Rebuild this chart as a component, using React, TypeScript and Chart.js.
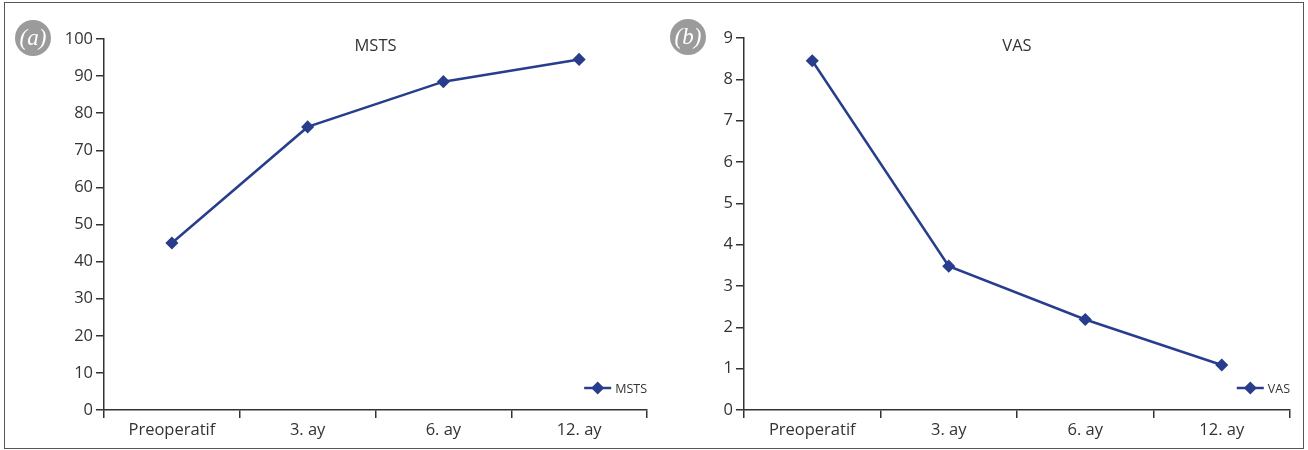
import React, { useEffect, useRef } from "react";
import { Chart, registerables } from "chart.js";

Chart.register(...registerables);

const categories = ["Preoperatif", "3. ay", "6. ay", "12. ay"];
const mstsValues = [45, 76.3, 88.5, 94.5];
const vasValues = [8.45, 3.48, 2.19, 1.09];
const mstsAxis = { min: 0, max: 100, step: 10 };
const vasAxis = { min: 0, max: 9, step: 1 };

const FONT = '"Open Sans", "Noto Sans", sans-serif';
const TEXT = "#333333";
const AXIS = "#333333";
const LINE = "#283d8c";

const overlayPlugin = {
  id: "overlay",
  afterDraw(chart: any, _args: any, opts: any) {
    const { ctx, chartArea } = chart;
    const cx = (chartArea.left + chartArea.right) / 2;
    ctx.save();
    ctx.fillStyle = TEXT;
    ctx.font = `16.5px ${FONT}`;
    ctx.textAlign = "center";
    ctx.textBaseline = "alphabetic";
    ctx.fillText(opts.title, cx, opts.titleY);

    const label = chart.data.datasets[0].label;
    ctx.font = `12.5px ${FONT}`;
    const tw = ctx.measureText(label).width;
    const tx = chartArea.right - tw;
    const y = chartArea.bottom - 22;
    ctx.textAlign = "left";
    ctx.textBaseline = "middle";
    ctx.fillText(label, tx, y + 1);
    const x1 = tx - 4;
    const x0 = x1 - 27;
    ctx.strokeStyle = LINE;
    ctx.lineWidth = 2.5;
    ctx.beginPath();
    ctx.moveTo(x0, y);
    ctx.lineTo(x1, y);
    ctx.stroke();
    const mx = (x0 + x1) / 2;
    const r = 6.5;
    ctx.fillStyle = LINE;
    ctx.beginPath();
    ctx.moveTo(mx - r, y);
    ctx.lineTo(mx, y - r);
    ctx.lineTo(mx + r, y);
    ctx.lineTo(mx, y + r);
    ctx.closePath();
    ctx.fill();
    ctx.restore();
  },
};

type PanelProps = {
  values: number[];
  label: string;
  axis: { min: number; max: number; step: number };
  left: number;
  padLeft: number;
  padRight: number;
  padTop: number;
};

function Panel({ values, label, axis, left, padLeft, padRight, padTop }: PanelProps) {
  const ref = useRef<HTMLCanvasElement | null>(null);
  useEffect(() => {
    if (!ref.current) return;
    const chart = new Chart(ref.current, {
      type: "line",
      data: {
        labels: categories,
        datasets: [
          {
            label,
            data: values,
            borderColor: LINE,
            backgroundColor: LINE,
            borderWidth: 2.5,
            tension: 0,
            pointStyle: "rectRot",
            pointRadius: 5.5,
            pointBorderWidth: 1.5,
            pointBackgroundColor: LINE,
            pointBorderColor: LINE,
          },
        ],
      },
      options: {
        responsive: false,
        animation: false,
        devicePixelRatio: 1,
        layout: { padding: { left: padLeft, right: padRight, top: padTop, bottom: 0 } },
        plugins: {
          legend: { display: false },
          tooltip: { enabled: false },
          overlay: { title: label, titleY: 51 },
        } as any,
        scales: {
          x: {
            type: "category",
            offset: true,
            grid: {
              offset: true,
              drawOnChartArea: false,
              drawTicks: true,
              tickLength: 8,
              color: AXIS,
              lineWidth: 1.5,
            },
            border: { display: true, color: AXIS, width: 1.5 },
            ticks: {
              color: TEXT,
              font: { family: FONT, size: 16.5 },
              padding: 2,
              maxRotation: 0,
              autoSkip: false,
            },
            afterFit: (s: any) => {
              s.height = 40;
            },
          },
          y: {
            min: axis.min,
            max: axis.max,
            ticks: {
              stepSize: axis.step,
              color: TEXT,
              font: { family: FONT, size: 16.5 },
              padding: 3,
            },
            grid: {
              drawOnChartArea: false,
              drawTicks: true,
              tickLength: 8,
              color: AXIS,
              lineWidth: 1.5,
            },
            border: { display: true, color: AXIS, width: 1.5 },
            afterFit: (s: any) => {
              s.width = 60;
            },
          },
        },
      } as any,
      plugins: [overlayPlugin],
    });
    return () => chart.destroy();
  }, []);
  return (
    <canvas
      ref={ref}
      width={654}
      height={450}
      style={{ position: "absolute", left, top: 0, width: 654, height: 450 }}
    />
  );
}

function Badge({ text, x, y }: { text: string; x: number; y: number }) {
  return (
    <div
      style={{
        position: "absolute",
        left: x - 18,
        top: y - 18,
        width: 36,
        height: 36,
        borderRadius: "50%",
        background: "#9b9b9b",
        color: "#ffffff",
        fontFamily: '"Liberation Serif", "DejaVu Serif", serif',
        fontStyle: "italic",
        fontSize: 23,
        lineHeight: "35px",
        textAlign: "center",
      }}
    >
      {text}
    </div>
  );
}

export default function App() {
  return (
    <div
      style={{
        position: "fixed",
        left: 0,
        top: 0,
        width: 1308,
        height: 450,
        background: "#ffffff",
        overflow: "hidden",
      }}
    >
      <div
        style={{
          position: "absolute",
          left: 4,
          top: 2,
          width: 1300,
          height: 447,
          border: "1.5px solid #555555",
          boxSizing: "border-box",
        }}
      />
      <Panel values={mstsValues} label="MSTS" axis={mstsAxis} left={0} padLeft={44} padRight={3} padTop={39} />
      <Panel values={vasValues} label="VAS" axis={vasAxis} left={654} padLeft={30} padRight={18} padTop={38} />
      <Badge text="(a)" x={33} y={38} />
      <Badge text="(b)" x={688} y={37} />
    </div>
  );
}
